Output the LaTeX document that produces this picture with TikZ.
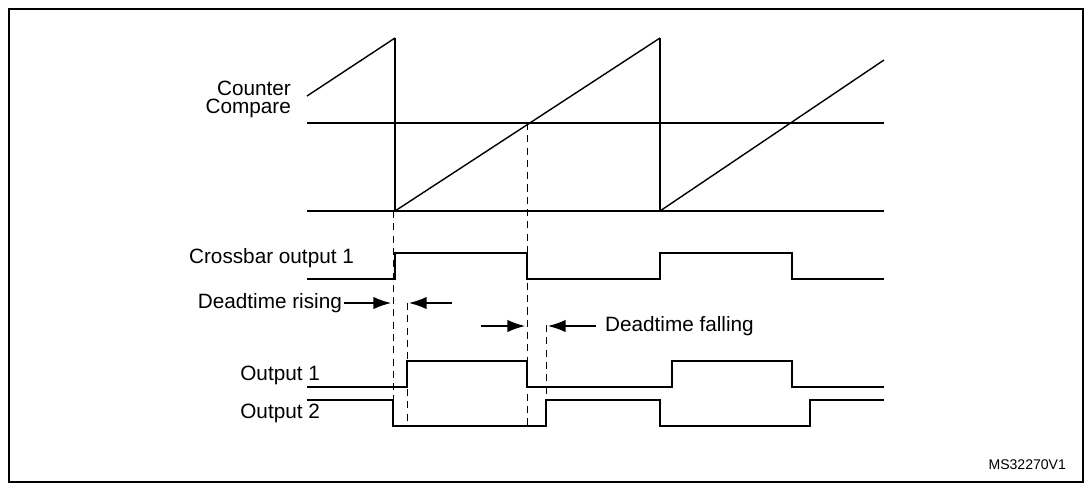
\documentclass[tikz,border=0pt]{standalone}
\usepackage{fontspec}
\setmainfont{Liberation Sans}
\usetikzlibrary{arrows.meta}
\begin{document}
\begin{tikzpicture}[x=0.02cm,y=-0.02cm,
 sig/.style={line width=1.5pt},
 thinl/.style={line width=0.8pt},
 dsh/.style={line width=0.5pt,dash pattern=on 4pt off 3pt},
 lab/.style={font=\fontsize{11.8pt}{13pt}\selectfont,inner sep=1pt},
 arr/.style={line width=0.7pt,-{Latex[length=10pt,width=7pt]}}]
\useasboundingbox (0,0) rectangle (1091,484);
\draw[line width=1.2pt] (9,9) rectangle (1083,482);
% counter
\draw[thinl] (307,96) -- (395,38);
\draw[sig] (395,38) -- (395,211);
\draw[thinl] (395,211) -- (660,38);
\draw[sig] (660,38) -- (660,211);
\draw[thinl] (660,211) -- (884,60);
\draw[thinl] (307,123) -- (884,123);
\draw[thinl] (307,211) -- (884,211);
\node[lab,anchor=east] (cnt) at (293,88) {Counter};
\node[lab,anchor=east] (cmp) at (293,108) {Compare};
% dashed
\draw[dsh] (393,211) -- (393,426);
\draw[dsh] (527,123) -- (527,426);
\draw[dsh] (407,303) -- (407,426);
\draw[dsh] (546,325) -- (546,426);
% crossbar
\draw[sig] (307,279) -- (395,279) -- (395,253) -- (527,253) -- (527,279) -- (660,279) -- (660,253) -- (792,253) -- (792,279) -- (884,279);
\node[lab,anchor=east] (cb) at (356,258) {Crossbar output 1};
% deadtime
\node[lab,anchor=east] (dr) at (344,303) {Deadtime rising};
\coordinate (a1) at (391,303);
\draw[arr] (dr.east) -- (a1);
\coordinate (b0) at (452,303); \coordinate (b1) at (409,303);
\draw[arr] (b0) -- (b1);
\coordinate (c0) at (481,326); \coordinate (c1) at (525,326);
\draw[arr] (c0) -- (c1);
\node[lab,anchor=west] (df) at (603,326) {Deadtime falling};
\coordinate (d1) at (548,326); \coordinate (d0) at (596,326);
\draw[arr] (d0) -- (d1);
% outputs
\draw[sig] (307,387) -- (407,387) -- (407,361) -- (527,361) -- (527,387) -- (672,387) -- (672,361) -- (792,361) -- (792,387) -- (884,387);
\draw[sig] (307,400) -- (393,400) -- (393,426) -- (546,426) -- (546,400) -- (660,400) -- (660,426) -- (810,426) -- (810,400) -- (884,400);
\node[lab,anchor=east] (o1) at (322,375) {Output 1};
\node[lab,anchor=east] (o2) at (322,413) {Output 2};
\node[lab,anchor=east,font=\fontsize{8pt}{9pt}\selectfont] (ms) at (1068,465) {MS32270V1};
\end{tikzpicture}
\end{document}
